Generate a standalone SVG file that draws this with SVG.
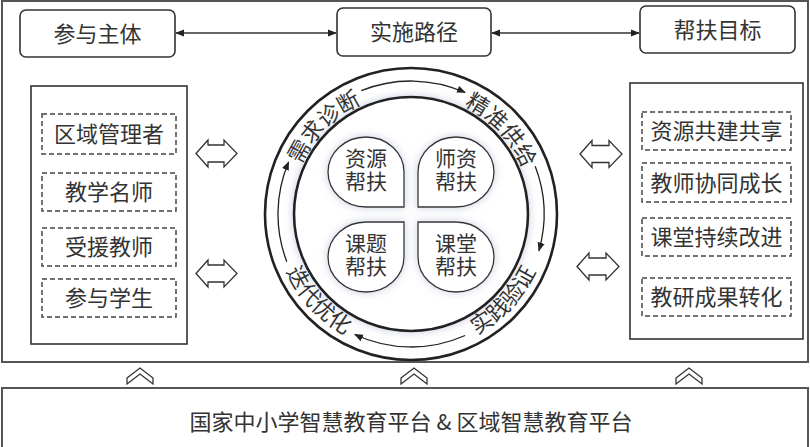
<svg xmlns="http://www.w3.org/2000/svg" width="810" height="447" viewBox="0 0 810 447">
<defs>
<style>
text{font-family:"Noto Sans CJK SC","Liberation Sans",sans-serif;fill:#333;}
.frame{fill:none;stroke:#555;stroke-width:2}
.box{fill:#fff;stroke:#333;stroke-width:1.6}
.dash{fill:#fff;stroke:#444;stroke-width:1.5;stroke-dasharray:5 3}
.t22{font-size:22px;text-anchor:middle}
.t21{font-size:21px;text-anchor:middle}
.ring{fill:none;stroke:#222;stroke-width:2.6}
.cyc{fill:none;stroke:#222;stroke-width:1.3}
.petal{fill:#fff;stroke:#333;stroke-width:1.3}
.hol{fill:#fff;stroke:#333;stroke-width:1.3}
.conn{fill:none;stroke:#333;stroke-width:1.5}
.rt{font-size:22px}
</style>
<marker id="ah" viewBox="0 0 10 10" refX="9" refY="5" markerWidth="9" markerHeight="9" markerUnits="userSpaceOnUse" orient="auto-start-reverse"><path d="M0,1 L10,5 L0,9 Z" fill="#222"/></marker>
<filter id="sh" x="-30%" y="-30%" width="160%" height="160%">
<feGaussianBlur in="SourceAlpha" stdDeviation="4" result="b"/>
<feFlood flood-color="#9aa6c4" flood-opacity="0.55"/>
<feComposite in2="b" operator="in" result="s"/>
<feMerge><feMergeNode in="s"/><feMergeNode in="SourceGraphic"/></feMerge>
</filter>
<path id="p1" d="M 294.5 182.8 A 120.6 120.6 0 0 1 379.8 97.5"/>
<path id="p2" d="M 446.3 98.7 A 120.6 120.6 0 0 1 528.5 186.9"/>
<path id="p3" d="M 451.2 345.4 A 137.4 137.4 0 0 0 544.9 244.9"/>
<path id="p4" d="M 277.1 244.9 A 137.4 137.4 0 0 0 370.8 345.4"/>
</defs>
<rect width="810" height="447" fill="#fff"/>
<rect class="frame" x="2" y="1" width="806" height="361"/>
<rect class="frame" x="2" y="388" width="806" height="70"/>

<g id="connectors">
<line class="conn" x1="176" y1="33" x2="336" y2="33" marker-start="url(#ah)" marker-end="url(#ah)"/>
<line class="conn" x1="492" y1="33" x2="639" y2="33" marker-start="url(#ah)" marker-end="url(#ah)"/>
<g id="dbl-arrows">
<polygon class="hol" points="196,153.5 208,140 208,145 224,145 224,140 237,153.5 224,167 224,162 208,162 208,167"/>
<polygon class="hol" points="196,273.5 208,260 208,265 224,265 224,260 237,273.5 224,287 224,282 208,282 208,287"/>
<polygon class="hol" points="580,154 592,140.5 592,145.5 609,145.5 609,140.5 622,154 609,167.5 609,162.5 592,162.5 592,167.5"/>
<polygon class="hol" points="577,266.5 589,253 589,258 606,258 606,253 619,266.5 606,280 606,275 589,275 589,280"/>
</g>
<g id="chevrons">
<polygon class="hol" points="127,378 140,368 153,378 153,384 140,374 127,384"/>
<polygon class="hol" points="401,378 414,368 427,378 427,384 414,374 401,384"/>
<polygon class="hol" points="676,378 689,368 702,378 702,384 689,374 676,384"/>
</g>
</g>

<g id="n-cyzt"><rect class="box" x="20" y="10" width="155" height="47" rx="6"/><text class="t22" x="97.5" y="41.5">参与主体</text></g>
<g id="n-sslj"><rect class="box" x="337" y="8" width="154" height="48" rx="6"/><text class="t22" x="414" y="40">实施路径</text></g>
<g id="n-bfmb"><rect class="box" x="640" y="6" width="155" height="47" rx="6"/><text class="t22" x="717.5" y="37.5">帮扶目标</text></g>

<g id="n-left">
<rect class="box" x="31" y="86" width="156" height="258"/>
<rect class="dash" x="42" y="114" width="134" height="40"/><text class="t22" x="109" y="142">区域管理者</text>
<rect class="dash" x="42" y="173" width="134" height="38"/><text class="t22" x="109" y="200">教学名师</text>
<rect class="dash" x="42" y="228" width="134" height="38"/><text class="t22" x="109" y="255">受援教师</text>
<rect class="dash" x="42" y="279" width="134" height="38"/><text class="t22" x="109" y="306">参与学生</text>
</g>

<g id="n-right">
<rect class="box" x="630" y="83" width="173" height="256"/>
<rect class="dash" x="642" y="112" width="149" height="38"/><text class="t22" x="716.5" y="139">资源共建共享</text>
<rect class="dash" x="642" y="163" width="149" height="39"/><text class="t22" x="716.5" y="190.5">教师协同成长</text>
<rect class="dash" x="642" y="218" width="149" height="38"/><text class="t22" x="716.5" y="245">课堂持续改进</text>
<rect class="dash" x="642" y="278" width="149" height="38"/><text class="t22" x="716.5" y="305">教研成果转化</text>
</g>

<g id="n-cycle">
<circle class="ring" cx="411" cy="214" r="146"/>
<circle cx="411" cy="214" r="117" fill="#fff" stroke="#222" stroke-width="2.6" filter="url(#sh)"/>
<path class="cyc" d="M 361.2 90.7 A 133 133 0 0 1 465.1 92.5" marker-end="url(#ah)"/>
<path class="cyc" d="M 535.2 166.3 A 133 133 0 0 1 538.9 250.7" marker-end="url(#ah)"/>
<path class="cyc" d="M 465.1 335.5 A 133 133 0 0 1 354.8 334.5" marker-end="url(#ah)"/>
<path class="cyc" d="M 286.8 261.7 A 133 133 0 0 1 288.6 162.0" marker-end="url(#ah)"/>
<text class="rt"><textPath href="#p1" startOffset="50%" text-anchor="middle">需求诊断</textPath></text>
<text class="rt"><textPath href="#p2" startOffset="50%" text-anchor="middle">精准供给</textPath></text>
<text class="rt"><textPath href="#p3" startOffset="50%" text-anchor="middle">实践验证</textPath></text>
<text class="rt"><textPath href="#p4" startOffset="50%" text-anchor="middle">迭代优化</textPath></text>
</g>

<g id="n-zybf"><path class="petal" filter="url(#sh)" d="M 404 172 L 404 207 L 366 207 A 38 35 0 1 1 404 172 Z"/><text class="t21" x="366" y="166">资源</text><text class="t21" x="366" y="189">帮扶</text></g>
<g id="n-szbf"><path class="petal" filter="url(#sh)" d="M 418 172 L 418 207 L 456 207 A 38 35 0 1 0 418 172 Z"/><text class="t21" x="456" y="166">师资</text><text class="t21" x="456" y="189">帮扶</text></g>
<g id="n-ktbf"><path class="petal" filter="url(#sh)" d="M 404 257 L 404 222 L 366 222 A 38 35 0 1 0 404 257 Z"/><text class="t21" x="366" y="251">课题</text><text class="t21" x="366" y="274">帮扶</text></g>
<g id="n-ktbf2"><path class="petal" filter="url(#sh)" d="M 418 257 L 418 222 L 456 222 A 38 35 0 1 1 418 257 Z"/><text class="t21" x="456" y="251">课堂</text><text class="t21" x="456" y="274">帮扶</text></g>

<g id="n-platform"><text class="t22" x="411" y="430">国家中小学智慧教育平台 &amp; 区域智慧教育平台</text></g>
</svg>
